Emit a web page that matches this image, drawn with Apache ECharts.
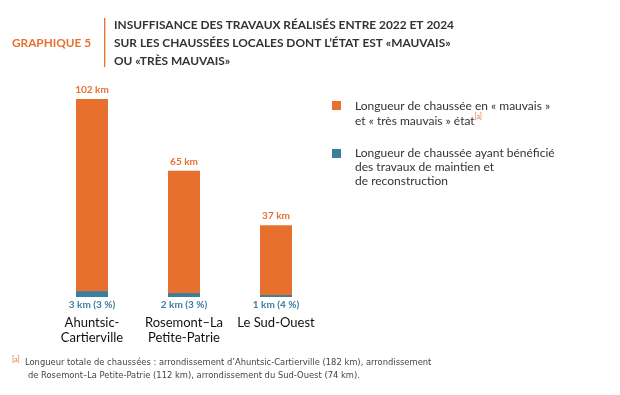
<!DOCTYPE html>
<html>
<head>
<meta charset="utf-8">
<script src="https://cdn.jsdelivr.net/npm/echarts@6/dist/echarts.min.js"></script>
<style>html,body{margin:0;padding:0;background:#fff;}#c{width:620px;height:395px;}</style>
</head>
<body>
<div id="c"></div>
<script>
const categories = ['Ahuntsic-\nCartierville', 'Rosemont–La\nPetite-Patrie', 'Le Sud-Ouest'];
const poorLength = [102, 65, 37];
const repairedLength = [3, 2, 1];
const repairedPct = [3, 3, 4];
const legendPoor = ['Longueur de chaussée en « mauvais »', 'et « très mauvais » état'];
const legendRepaired = ['Longueur de chaussée ayant bénéficié', 'des travaux de maintien et', 'de reconstruction'];
const footnote = ['Longueur totale de chaussées : arrondissement d’Ahuntsic-Cartierville (182 km), arrondissement',
                  'de Rosemont–La Petite-Patrie (112 km), arrondissement du Sud-Ouest (74 km).'];

const ORANGE = '#E8702E';
const BLUE = '#3A7EA0';
const DARK = '#333333';
const FONT = 'Lato';
const NARROW = '"DejaVu Sans Condensed", "Liberation Sans Narrow", Lato';

const chart = echarts.init(document.getElementById('c'), null, {renderer: 'canvas'});
chart.setOption({
  animation: false,
  backgroundColor: '#ffffff',
  title: [
    {text: 'GRAPHIQUE 5', left: 12, top: 37, padding: 0, textStyle: {color: ORANGE, fontFamily: FONT, fontWeight: 'bold', fontSize: 11.8}},
    {text: 'INSUFFISANCE DES TRAVAUX RÉALISÉS ENTRE 2022 ET 2024\nSUR LES CHAUSSÉES LOCALES DONT L’ÉTAT EST «MAUVAIS»\nOU «TRÈS MAUVAIS»',
     left: 114, top: 16, padding: 0, textStyle: {color: DARK, fontFamily: FONT, fontWeight: 'bold', fontSize: 11.9, lineHeight: 18}}
  ],
  grid: {left: 46, width: 276, top: 99, bottom: 98},
  xAxis: {
    type: 'category', data: categories,
    axisLine: {show: false}, axisTick: {show: false},
    axisLabel: {interval: 0, color: '#111', fontFamily: FONT, fontSize: 13, lineHeight: 15, margin: 18}
  },
  yAxis: {type: 'value', min: 0, max: 102, show: false, splitLine: {show: false}},
  series: [
    {type: 'bar', data: poorLength, barWidth: 32, itemStyle: {color: ORANGE},
     label: {show: true, position: 'top', distance: 4, formatter: '{c} km', color: ORANGE, fontFamily: FONT, fontWeight: 'bold', fontSize: 10}},
    {type: 'bar', data: repairedLength, barWidth: 32, barGap: '-100%', itemStyle: {color: BLUE},
     label: {show: true, position: 'bottom', distance: 3, color: BLUE, fontFamily: FONT, fontWeight: 'bold', fontSize: 10,
       formatter: p => p.value + ' km (' + repairedPct[p.dataIndex] + ' %)'}}
  ],
  graphic: [
    {type: 'rect', shape: {x: 104, y: 18, width: 1.3, height: 49}, style: {fill: ORANGE}},
    {type: 'rect', shape: {x: 332, y: 101, width: 9, height: 9}, style: {fill: ORANGE}},
    {type: 'text', x: 355, y: 99, style: {
      text: legendPoor[0] + '\n' + legendPoor[1] + '{sup|[a]}',
      fill: DARK, fontFamily: FONT, fontSize: 12, lineHeight: 14.5,
      rich: {sup: {fill: ORANGE, fontSize: 7, fontFamily: FONT, verticalAlign: 'top', lineHeight: 14.5, padding: [0, 0, 6, 0]}}}},
    {type: 'rect', shape: {x: 332, y: 149, width: 9, height: 9}, style: {fill: BLUE}},
    {type: 'text', x: 355, y: 146, style: {
      text: legendRepaired.join('\n'), fill: DARK, fontFamily: FONT, fontSize: 12, lineHeight: 14}},
    {type: 'text', x: 12, y: 356, style: {text: '[a]', fill: ORANGE, fontFamily: FONT, fontSize: 7.5}},
    {type: 'text', x: 25, y: 358, style: {text: footnote[0], fill: '#444', fontFamily: NARROW, fontSize: 9.3}},
    {type: 'text', x: 28, y: 371.5, style: {text: footnote[1], fill: '#444', fontFamily: NARROW, fontSize: 9.3}}
  ]
});
</script>
</body>
</html>
